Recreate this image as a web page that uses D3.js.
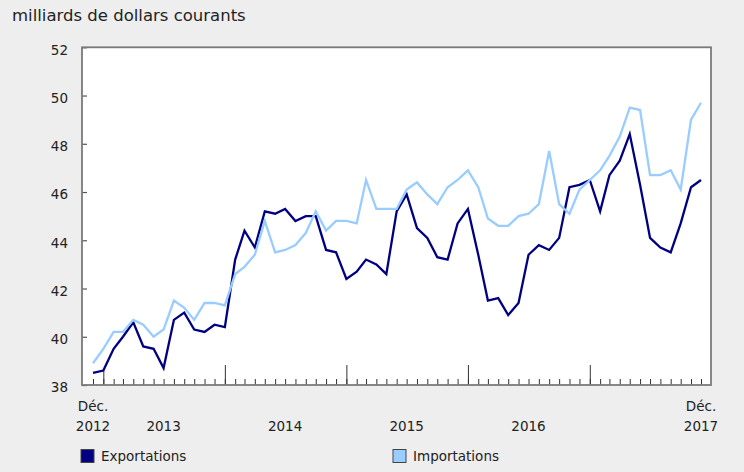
<!DOCTYPE html>
<html><head><meta charset="utf-8">
<script src="https://cdn.jsdelivr.net/npm/d3@7"></script>
<style>
html,body{margin:0;padding:0;background:#eeeeee;}
svg{display:block;font-family:"DejaVu Sans",Verdana,sans-serif;}
</style></head>
<body><svg id="c" width="744" height="472"></svg>
<script>
const startMonth = new Date(2012, 11, 1);
const endMonth = new Date(2017, 11, 1);
const months = d3.timeMonth.range(startMonth, d3.timeMonth.offset(endMonth, 1));

const exportations = [38.5,38.6,39.5,40.0,40.6,39.6,39.5,38.7,40.7,41.0,
  40.3,40.2,40.5,40.4,43.2,44.4,43.7,45.2,45.1,45.3,
  44.8,45.0,45.0,43.6,43.5,42.4,42.7,43.2,43.0,42.6,
  45.2,45.9,44.5,44.1,43.3,43.2,44.7,45.3,43.4,41.5,
  41.6,40.9,41.4,43.4,43.8,43.6,44.1,46.2,46.3,46.5,
  45.2,46.7,47.3,48.4,46.3,44.1,43.7,43.5,44.7,46.2,46.5];
const importations = [38.9,39.5,40.2,40.2,40.7,40.5,40.0,40.3,41.5,41.2,
  40.7,41.4,41.4,41.3,42.6,42.9,43.4,44.8,43.5,43.6,
  43.8,44.3,45.2,44.4,44.8,44.8,44.7,46.5,45.3,45.3,
  45.3,46.1,46.4,45.9,45.5,46.2,46.5,46.9,46.2,44.9,
  44.6,44.6,45.0,45.1,45.5,47.7,45.5,45.1,46.1,46.5,
  46.9,47.5,48.3,49.5,49.4,46.7,46.7,46.9,46.1,49.0,49.7];

const seriesNames = ["Exportations", "Importations"];
const seriesColors = ["#000080", "#99ccff"];
const yTicks = [38, 40, 42, 44, 46, 48, 50, 52];
const yTitle = "milliards de dollars courants";
const yearTickDates = [new Date(2013,0,1), new Date(2014,0,1), new Date(2015,0,1), new Date(2016,0,1), new Date(2017,0,1)];
const xLabelDates = [new Date(2012,11,1), new Date(2013,6,1), new Date(2014,6,1), new Date(2015,6,1), new Date(2016,6,1), new Date(2017,11,1)];
const xLabelLine1 = ["Déc.", "", "", "", "", "Déc."];
const xLabelLine2 = ["2012", "2013", "2014", "2015", "2016", "2017"];

const svg = d3.select("#c");
const frame = {left: 82, right: 711, top: 47.3, bottom: 385};
const x = d3.scaleTime().domain([startMonth, endMonth]).range([93, 701]);
const y = d3.scaleLinear().domain([38, 52]).range([frame.bottom, frame.top]);

// plot background
svg.append("rect").attr("x", frame.left).attr("y", frame.top)
  .attr("width", frame.right - frame.left).attr("height", frame.bottom - frame.top)
  .attr("fill", "#ffffff");

// title
svg.append("text").attr("x", 12).attr("y", 21).attr("font-size", 16.5)
  .attr("fill", "#222").text(yTitle);

// y axis
const yAxis = d3.axisLeft(y).tickValues(yTicks).tickSizeInner(-5).tickSizeOuter(0).tickPadding(14).tickFormat(d3.format("d"));
const gy = svg.append("g").attr("transform", `translate(${frame.left},0)`).call(yAxis);
gy.select(".domain").remove();
gy.selectAll(".tick line").attr("stroke", "#555").attr("stroke-width", 1.2);
gy.selectAll(".tick text").attr("font-size", 13.5).attr("fill", "#222")
  .attr("font-family", "DejaVu Sans, Verdana, sans-serif").attr("dy", "0.5em");

// x monthly ticks
const xAxis = d3.axisBottom(x).tickValues(months).tickSizeInner(-6).tickSizeOuter(0).tickFormat("");
const gx = svg.append("g").attr("transform", `translate(0,${frame.bottom})`).call(xAxis);
gx.select(".domain").remove();
gx.selectAll(".tick line").attr("stroke", "#333").attr("stroke-width", 1);

// year ticks
const xAxisY = d3.axisBottom(x).tickValues(yearTickDates).tickSizeInner(-20).tickSizeOuter(0).tickFormat("");
const gxy = svg.append("g").attr("transform", `translate(0,${frame.bottom})`).call(xAxisY);
gxy.select(".domain").remove();
gxy.selectAll(".tick line").attr("stroke", "#333").attr("stroke-width", 1)
  .attr("y2", (d, i) => i === 0 ? -14 : -20);

// x labels
const lab = svg.append("g").attr("font-size", 13.5).attr("fill", "#222").attr("text-anchor", "middle");
xLabelDates.forEach((d, i) => {
  if (xLabelLine1[i]) lab.append("text").attr("x", x(d)).attr("y", 411).text(xLabelLine1[i]);
  lab.append("text").attr("x", x(d)).attr("y", 430.5).text(xLabelLine2[i]);
});

// lines
const line = d3.line().x((d, i) => x(months[i])).y(d => y(d));
[exportations, importations].forEach((s, k) => {
  svg.append("path").datum(s).attr("d", line).attr("fill", "none")
    .attr("stroke", seriesColors[k]).attr("stroke-width", 2.3).attr("stroke-linejoin", "miter");
});
// redraw exports on top? (imports drawn last in reference appears under exports at crossings)

// frame
svg.append("rect").attr("x", frame.left).attr("y", frame.top)
  .attr("width", frame.right - frame.left).attr("height", frame.bottom - frame.top)
  .attr("fill", "none").attr("stroke", "#7a7a7a").attr("stroke-width", 1.8);

// legend
const legX = [81, 393];
const leg = svg.append("g");
seriesNames.forEach((n, k) => {
  leg.append("rect").attr("x", legX[k]).attr("y", 449.5).attr("width", 13).attr("height", 13)
    .attr("fill", seriesColors[k]).attr("stroke", "#444").attr("stroke-width", 1);
  leg.append("text").attr("x", legX[k] + 20).attr("y", 461).attr("font-size", 13.5)
    .attr("fill", "#222").text(n);
});
</script></body></html>
